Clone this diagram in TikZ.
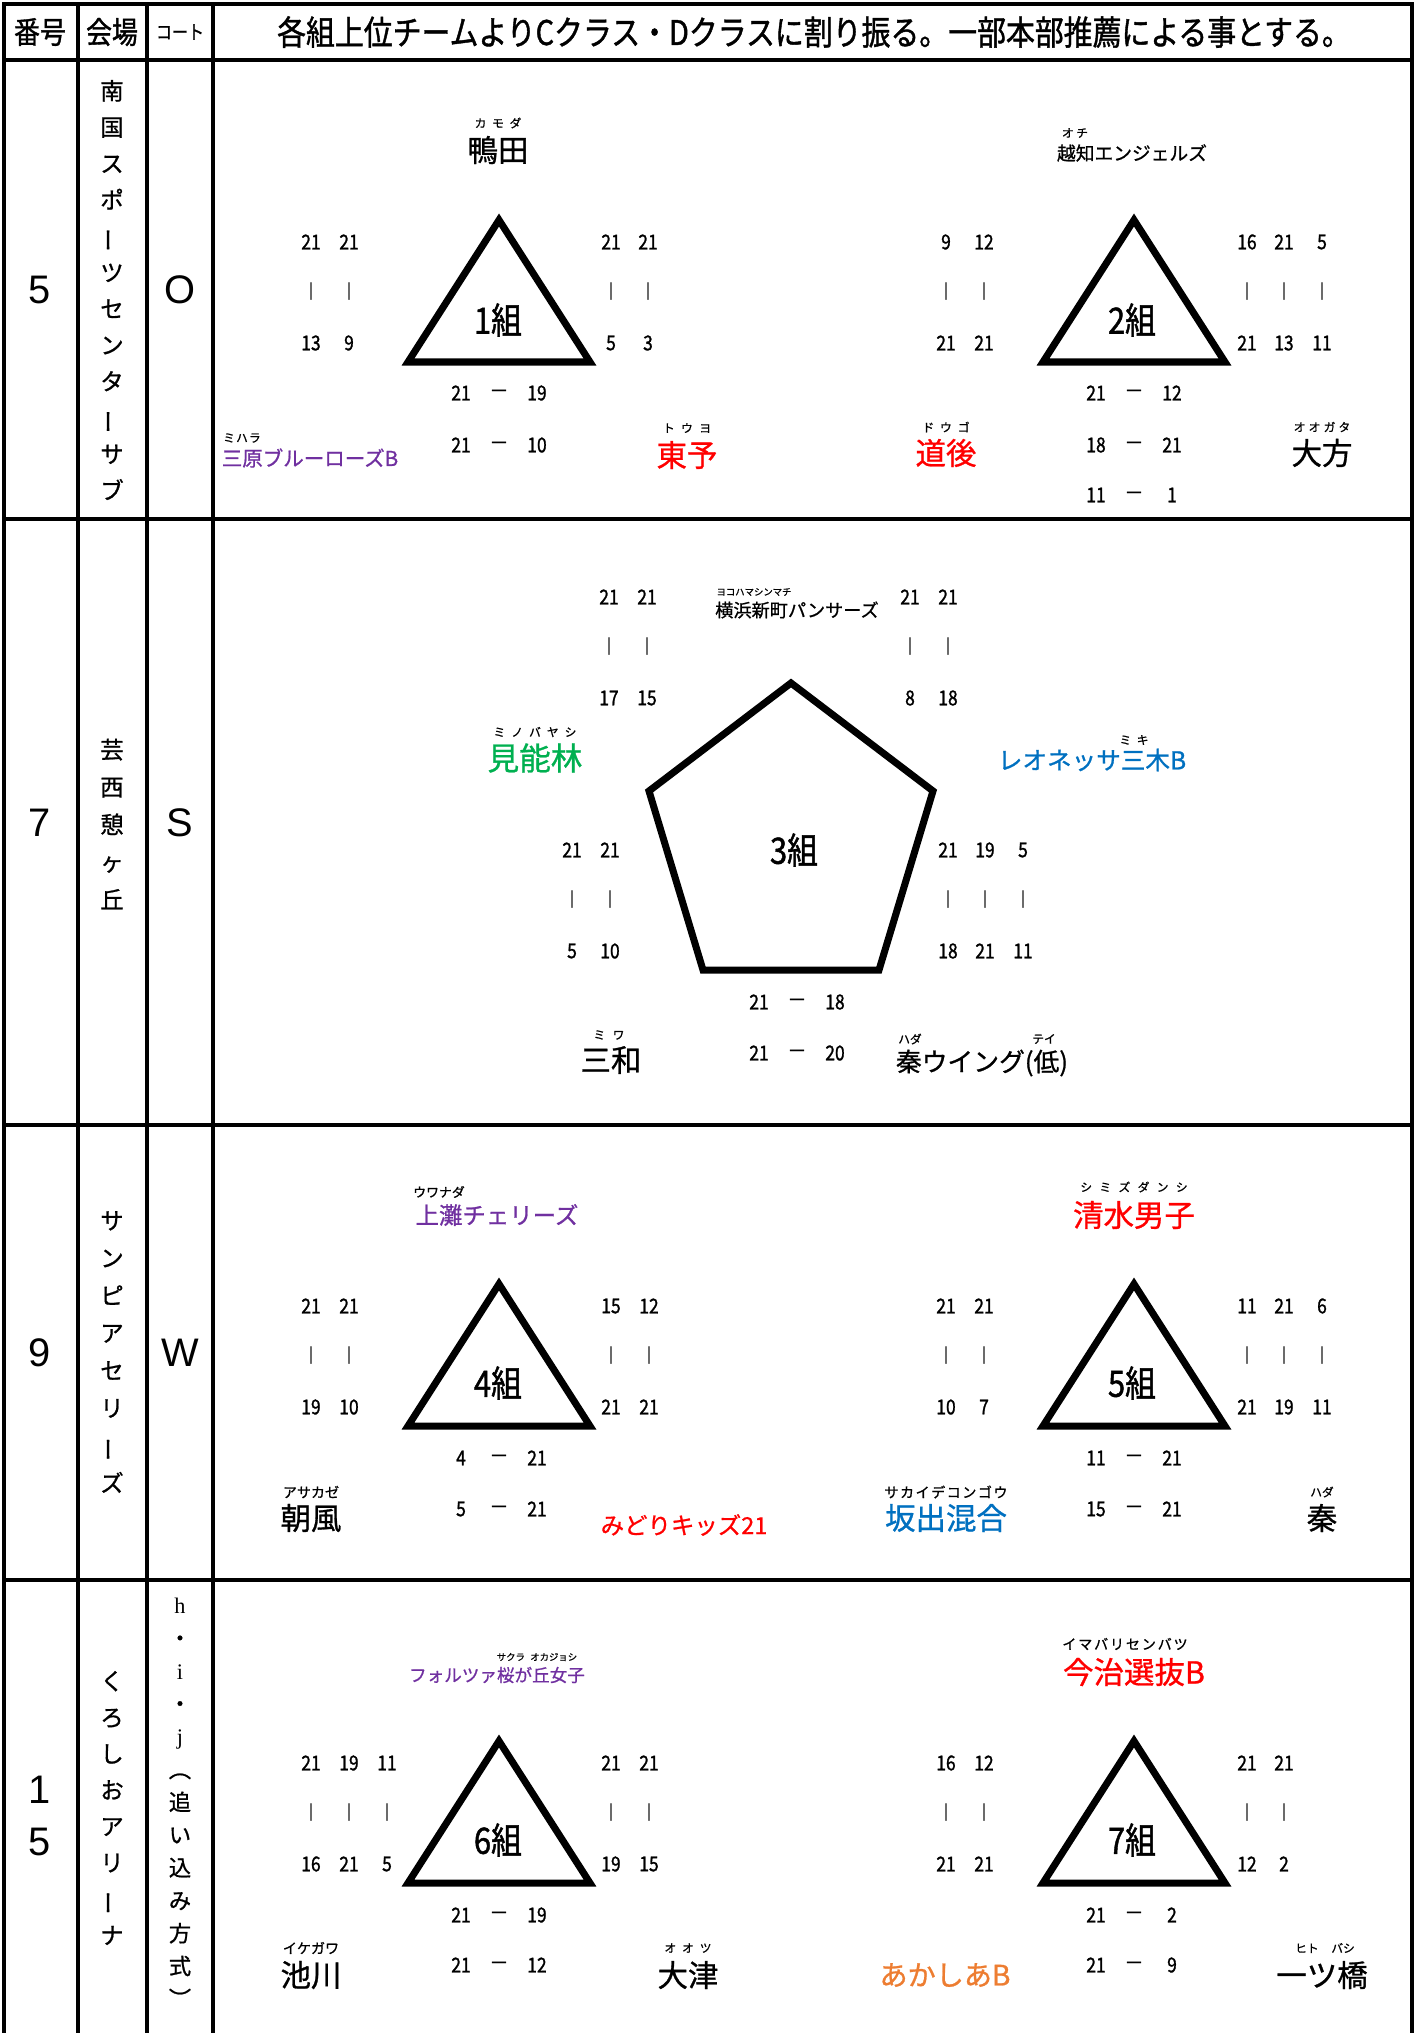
\documentclass[tikz,border=0pt]{standalone}
\usepackage{fontspec}
\setmainfont[FakeBold=0.9]{Noto Sans CJK JP}
\newfontfamily\narrowfont[FakeStretch=0.85, FakeBold=1.2]{Noto Sans CJK JP}
\newfontfamily\arialfont{Liberation Sans}
\newfontfamily\romanfont{Liberation Serif}
\definecolor{teampurple}{HTML}{7030A0}
\definecolor{teamred}{HTML}{FF0000}
\definecolor{teamgreen}{HTML}{00B050}
\definecolor{teamblue}{HTML}{0070C0}
\definecolor{teamorange}{HTML}{ED7D31}

% one game column: upper score, bar, lower score
\newcommand{\game}[5]{%
  \node[num] (#1t) at (#2,#3) {#4};
  \node[bar] (#1m) at (#2,#3+49) {|};
  \node[num] (#1b) at (#2,#3+101) {#5};}
% one game under the triangle: left - right
\newcommand{\match}[5]{%
  \node[num] (#1l) at (#2-38,#3) {#4};
  \node[num] (#1d) at (#2,#3) {—};
  \node[num] (#1r) at (#2+38,#3) {#5};}
\newcommand{\league}[2]{%
  \draw[league] (#1,#2) -- ++(-91,142) -- ++(182,0) -- cycle;}
\newcommand{\tate}{\rotatebox[origin=c]{90}{ー}}

\begin{document}
\begin{tikzpicture}[x=0.03cm, y=-0.03cm,
    tableline/.style={line width=4.2pt, line join=miter},
    cellline/.style={line width=2.8pt},
    league/.style={line width=6pt, line join=miter},
    num/.style={inner sep=0pt, font=\narrowfont\fontsize{17.5}{17.5}\selectfont},
    bar/.style={inner sep=0pt, font=\fontsize{13}{13}\selectfont},
    team/.style={inner sep=0pt, font=\fontsize{#1}{#1}\selectfont},
    team/.default=26,
    furi/.style={inner sep=0pt, font=\fontsize{#1}{#1}\selectfont},
    furi/.default=10,
    kumi/.style={inner sep=0pt, font=\narrowfont\fontsize{31}{31}\selectfont},
    head/.style={inner sep=0pt, font=\narrowfont\fontsize{26}{26}\selectfont},
    big/.style={inner sep=0pt, align=center, font=\arialfont\fontsize{34}{44}\selectfont},
    venue/.style={inner sep=0pt, align=center, font=\fontsize{20}{#1}\selectfont},
  ]
  \useasboundingbox (0,0) rectangle (1416,2033);

  % table
  \draw[tableline] (4,2033) -- (4,4) -- (1412,4) -- (1412,2033);
  \draw[tableline] (4,60) -- (1412,60);
  \draw[tableline] (4,519) -- (1412,519);
  \draw[tableline] (4,1125) -- (1412,1125);
  \draw[tableline] (4,1580) -- (1412,1580);
  \draw[cellline] (78,4) -- (78,2033);
  \draw[cellline] (147,4) -- (147,2033);
  \draw[tableline] (213,4) -- (213,2033);

  % header
  \node[head] (hno) at (40,32) {番号};
  \node[head] (hvenue) at (112,32) {会場};
  \node[inner sep=0pt, font=\narrowfont\fontsize{16}{16}\selectfont] (hcourt) at (180,32) {コート};
  \node[inner sep=0pt, font=\narrowfont\fontsize{29}{29}\selectfont] (htitle) at (814,32)
  {各組上位チームよりCクラス・Dクラスに割り振る。一部本部推薦による事とする。};

  % left columns
  \node[big] (no1) at (40,290) {5};
  \node[venue=31] (venue1) at (112,290) {南\\国\\ス\\ポ\\\tate\\ツ\\セ\\ン\\タ\\\tate\\サ\\ブ};
  \node[big] (court1) at (180,290) {O};
  \node[big] (no2) at (40,823) {7};
  \node[venue=32] (venue2) at (112,824) {芸\\西\\憩\\ヶ\\丘};
  \node[big] (court2) at (180,823) {S};
  \node[big] (no3) at (40,1353) {9};
  \node[venue=32] (venue3) at (112,1352) {サ\\ン\\ピ\\ア\\セ\\リ\\\tate\\ズ};
  \node[big] (court3) at (180,1353) {W};
  \node[big] (no4) at (40,1816) {1\\5};
  \node[venue=31] (venue4) at (112,1808) {く\\ろ\\し\\お\\ア\\リ\\\tate\\ナ};
  \node[inner sep=0pt, align=center, font=\fontsize{19}{28}\selectfont] (court4) at (180,1804)
  {{\romanfont h}\\・\\{\romanfont i}\\・\\{\romanfont j}\\\rotatebox[origin=c]{-90}{（}\\追\\い\\込\\み\\方\\式\\\rotatebox[origin=c]{-90}{）}};

  % 1組
  \league{499}{220}
  \node[kumi] (kumi1) at (498,320) {1組};
  \node[furi] (kamodaF) at (498,123) {\makebox[1.74cm]{カ\hfil モ\hfil ダ}};
  \node[team] (kamoda) at (498,150) {鴨田};
  \game{g1a}{311}{242}{21}{13}
  \game{g1b}{349}{242}{21}{9}
  \game{g1c}{611}{242}{21}{5}
  \game{g1d}{648}{242}{21}{3}
  \match{m1a}{499}{393}{21}{19}
  \match{m1b}{499}{445}{21}{10}
  \node[furi] (miharaF) at (242,438) {\makebox[1.2cm]{ミ\hfil ハ\hfil ラ}};
  \node[team=17.5, text=teampurple] (mihara) at (310,458) {三原ブルーローズB};
  \node[furi] (touyoF) at (687,428) {\makebox[1.83cm]{ト\hfil ウ\hfil ヨ}};
  \node[team, text=teamred] (touyo) at (687,455) {東予};

  % 2組
  \league{1134}{220}
  \node[kumi] (kumi2) at (1132,320) {2組};
  \node[furi] (ochiF) at (1075,133) {\makebox[0.93cm]{オ\hfil チ}};
  \node[team=16] (ochi) at (1132,153) {越知エンジェルズ};
  \game{g2a}{946}{242}{9}{21}
  \game{g2b}{984}{242}{12}{21}
  \game{g2c}{1247}{242}{16}{21}
  \game{g2d}{1284}{242}{21}{13}
  \game{g2e}{1322}{242}{5}{11}
  \match{m2a}{1134}{393}{21}{12}
  \match{m2b}{1134}{445}{18}{21}
  \match{m2c}{1134}{495}{11}{1}
  \node[furi] (dougoF) at (946,427) {\makebox[1.77cm]{ド\hfil ウ\hfil ゴ}};
  \node[team, text=teamred] (dougo) at (946,453) {道後};
  \node[furi] (oogataF) at (1322,427) {\makebox[1.89cm]{オ\hfil オ\hfil ガ\hfil タ}};
  \node[team] (oogata) at (1322,453) {大方};

  % 3組
  \draw[league] (791,683) -- (933,791) -- (879,970) -- (703,970) -- (649,791) -- cycle;
  \node[kumi] (kumi3) at (794,850) {3組};
  \node[furi=8] (yokohamaF) at (754,592) {ヨコハマシンマチ};
  \node[team=15.5] (yokohama) at (797,610) {横浜新町パンサーズ};
  \game{g3a}{609}{597}{21}{17}
  \game{g3b}{647}{597}{21}{15}
  \game{g3c}{910}{597}{21}{8}
  \game{g3d}{948}{597}{21}{18}
  \game{g3e}{572}{850}{21}{5}
  \game{g3f}{610}{850}{21}{10}
  \game{g3g}{948}{850}{21}{18}
  \game{g3h}{985}{850}{19}{21}
  \game{g3i}{1023}{850}{5}{11}
  \match{m3a}{797}{1002}{21}{18}
  \match{m3b}{797}{1053}{21}{20}
  \node[furi] (minobayashiF) at (535,732) {\makebox[2.85cm]{ミ\hfil ノ\hfil バ\hfil ヤ\hfil シ}};
  \node[team=27, text=teamgreen] (minobayashi) at (535,758) {見能林};
  \node[furi] (mikiF) at (1134,740) {\makebox[1.2cm]{ミ\hfil キ}};
  \node[team=21, text=teamblue] (leonessa) at (1092,760) {レオネッサ三木B};
  \node[furi] (miwaF) at (609,1035) {\makebox[1.38cm]{ミ\hfil ワ}};
  \node[team] (miwa) at (611,1060) {三和};
  \node[furi] (hadaF) at (910,1039) {ハダ};
  \node[furi] (teiF) at (1044,1039) {テイ};
  \node[team=22] (hatawing) at (982,1063) {秦ウイング(低)};

  % 4組
  \league{499}{1284}
  \node[kumi] (kumi4) at (498,1383) {4組};
  \node[furi=11] (uwanadaF) at (439,1192) {ウワナダ};
  \node[team=20, text=teampurple] (uwanada) at (497,1215) {上灘チェリーズ};
  \game{g4a}{311}{1306}{21}{19}
  \game{g4b}{349}{1306}{21}{10}
  \game{g4c}{611}{1306}{15}{21}
  \game{g4d}{649}{1306}{12}{21}
  \match{m4a}{499}{1458}{4}{21}
  \match{m4b}{499}{1509}{5}{21}
  \node[furi=12] (asakazeF) at (311,1492) {アサカゼ};
  \node[team] (asakaze) at (311,1518) {朝風};
  \node[team=20, text=teamred] (midori) at (684,1525) {みどりキッズ21};

  % 5組
  \league{1134}{1284}
  \node[kumi] (kumi5) at (1132,1383) {5組};
  \node[furi] (shimizuF) at (1134,1187) {\makebox[3.66cm]{シ\hfil ミ\hfil ズ\hfil ダ\hfil ン\hfil シ}};
  \node[team, text=teamred] (shimizu) at (1134,1215) {清水男子};
  \game{g5a}{946}{1306}{21}{10}
  \game{g5b}{984}{1306}{21}{7}
  \game{g5c}{1247}{1306}{11}{21}
  \game{g5d}{1284}{1306}{21}{19}
  \game{g5e}{1322}{1306}{6}{11}
  \match{m5a}{1134}{1458}{11}{21}
  \match{m5b}{1134}{1509}{15}{21}
  \node[furi=12] (sakaideF) at (946,1492) {\makebox[3.78cm]{サ\hfil カ\hfil イ\hfil デ\hfil コ\hfil ン\hfil ゴ\hfil ウ}};
  \node[team, text=teamblue] (sakaide) at (946,1518) {坂出混合};
  \node[furi] (hataF) at (1322,1492) {ハダ};
  \node[team] (hata) at (1322,1518) {秦};

  % 6組
  \league{499}{1741}
  \node[kumi] (kumi6) at (498,1840) {6組};
  \node[furi=8] (sakuraF) at (537,1657) {\makebox[2.73cm]{サクラ\hfil オカジョシ}};
  \node[team=15, text=teampurple] (sakura) at (497,1675) {フォルツァ桜が丘女子};
  \game{g6a}{311}{1763}{21}{16}
  \game{g6b}{349}{1763}{19}{21}
  \game{g6c}{387}{1763}{11}{5}
  \game{g6d}{611}{1763}{21}{19}
  \game{g6e}{649}{1763}{21}{15}
  \match{m6a}{499}{1915}{21}{19}
  \match{m6b}{499}{1965}{21}{12}
  \node[furi=12] (ikegawaF) at (311,1948) {イケガワ};
  \node[team] (ikegawa) at (311,1975) {池川};
  \node[furi] (ootsuF) at (688,1948) {\makebox[1.77cm]{オ\hfil オ\hfil ツ}};
  \node[team] (ootsu) at (688,1975) {大津};

  % 7組
  \league{1134}{1741}
  \node[kumi] (kumi7) at (1132,1840) {7組};
  \node[furi=12] (imabariF) at (1125,1644) {\makebox[3.87cm]{イ\hfil マ\hfil バ\hfil リ\hfil セ\hfil ン\hfil バ\hfil ツ}};
  \node[team, text=teamred] (imabari) at (1134,1672) {今治選抜B};
  \game{g7a}{946}{1763}{16}{21}
  \game{g7b}{984}{1763}{12}{21}
  \game{g7c}{1247}{1763}{21}{12}
  \game{g7d}{1284}{1763}{21}{2}
  \match{m7a}{1134}{1915}{21}{2}
  \match{m7b}{1134}{1965}{21}{9}
  \node[team=24, text=teamorange] (akashia) at (945,1975) {あかしあB};
  \node[furi] (hitotsubashiF) at (1325,1948) {\makebox[2.55cm]{ヒト\hfil バシ}};
  \node[team] (hitotsubashi) at (1322,1975) {一ツ橋};
\end{tikzpicture}
\end{document}
